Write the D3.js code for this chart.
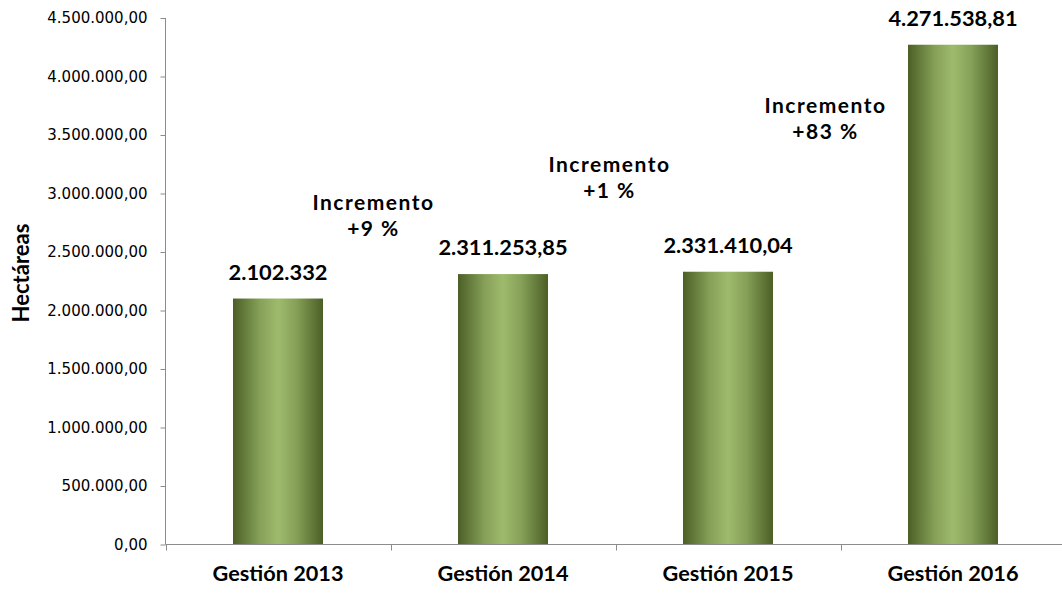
<!DOCTYPE html>
<html><head><meta charset="utf-8">
<script src="https://cdn.jsdelivr.net/npm/d3@7"></script>
<style>body{margin:0;background:#fff}svg{display:block}</style>
</head><body>
<svg id="c" width="1062" height="593"></svg>
<script>
const categories = ["Gestión 2013","Gestión 2014","Gestión 2015","Gestión 2016"];
const values = [2102332, 2311253.85, 2331410.04, 4271538.81];
const valueLabels = ["2.102.332","2.311.253,85","2.331.410,04","4.271.538,81"];
const yTicks = [0,500000,1000000,1500000,2000000,2500000,3000000,3500000,4000000,4500000];
const incLine1 = ["Incremento","Incremento","Incremento"];
const incLine2 = ["+9 %","+1 %","+83 %"];
const incPairs = [[0,1],[1,2],[2,3]];
const incLevel = [2860000, 3185000, 3690000];
const yTitle = "Hectáreas";

// layout-only nudges (px) for the annotation text
const incShift = [-17, -6, -15];

const svg = d3.select("#c");
const x = d3.scaleBand().domain(categories).range([165.5, 1065.5]).paddingInner(0.6).paddingOuter(0.3);
const y = d3.scaleLinear().domain([0,4500000]).range([544.5, 18]);

const fmt = v => Math.round(v).toString().replace(/\B(?=(\d{3})+(?!\d))/g, ".") + ",00";

const defs = svg.append("defs");
const g = defs.append("linearGradient").attr("id","bar").attr("x1","0").attr("x2","1").attr("y1","0").attr("y2","0");
[[0,"#4b5f26"],[0.3,"#86a158"],[0.5,"#9ebb6d"],[0.7,"#86a158"],[1,"#4b5f26"]].forEach(([o,c])=>g.append("stop").attr("offset",o).attr("stop-color",c));

svg.selectAll("rect.bar").data(values).join("rect").attr("class","bar")
  .attr("x",(d,i)=>x(categories[i])).attr("width",x.bandwidth())
  .attr("y",d=>y(d)).attr("height",d=>y(0)-y(d)).attr("fill","url(#bar)");

// y axis
const yAxis = d3.axisLeft(y).tickValues(yTicks).tickFormat(fmt).tickSize(5).tickPadding(13);
const ya = svg.append("g").attr("transform","translate(165.5,0)").call(yAxis);
ya.attr("font-family","DejaVu Sans").attr("font-size",15);
ya.select(".domain").attr("stroke","#8c8c8c").attr("d","M0,18V544.5");
ya.selectAll(".tick line").attr("stroke","#8c8c8c");
ya.selectAll(".tick text").attr("fill","#000");

// x axis
const xb = d3.scaleLinear().domain([0,4]).range([165.5,1065.5]);
const xa = svg.append("g").attr("transform","translate(0,544.5)");
xa.append("line").attr("x1",165.5).attr("x2",1065.5).attr("stroke","#8c8c8c");
xa.selectAll("line.t").data(d3.range(5)).join("line").attr("class","t")
  .attr("x1",d=>Math.round(xb(d))+0.5).attr("x2",d=>Math.round(xb(d))+0.5).attr("y1",0).attr("y2",6).attr("stroke","#8c8c8c");
xa.selectAll("text").data(categories).join("text")
  .attr("x",d=>x(d)+x.bandwidth()/2).attr("y",36).attr("text-anchor","middle")
  .attr("font-family","Lato").attr("font-weight","bold").attr("font-size","21.7px").text(d=>d);

// value labels
svg.selectAll("text.vl").data(values).join("text").attr("class","vl")
  .attr("x",(d,i)=>x(categories[i])+x.bandwidth()/2).attr("y",d=>y(d)-19)
  .attr("text-anchor","middle").attr("font-family","Lato").attr("font-weight","bold").attr("font-size","21.8px")
  .text((d,i)=>valueLabels[i]);

// increments (two separate lines)
incPairs.forEach((p,i)=>{
  const cx = (x(categories[p[0]])+x(categories[p[1]])+x.bandwidth())/2 + incShift[i];
  const y0 = y(incLevel[i]);
  [incLine1[i], incLine2[i]].forEach((s,k)=>{
    svg.append("text").attr("text-anchor","middle").attr("x",cx).attr("y",y0 + k*26)
      .attr("font-family","Lato").attr("font-weight","bold").attr("font-size","21px")
      .attr("letter-spacing","1.5px").text(s);
  });
});

// y title
svg.append("text").attr("transform","translate(29,273) rotate(-90)").attr("text-anchor","middle")
  .attr("font-family","Lato").attr("font-weight","bold").attr("font-size","22px").text(yTitle);
</script>
</body></html>
